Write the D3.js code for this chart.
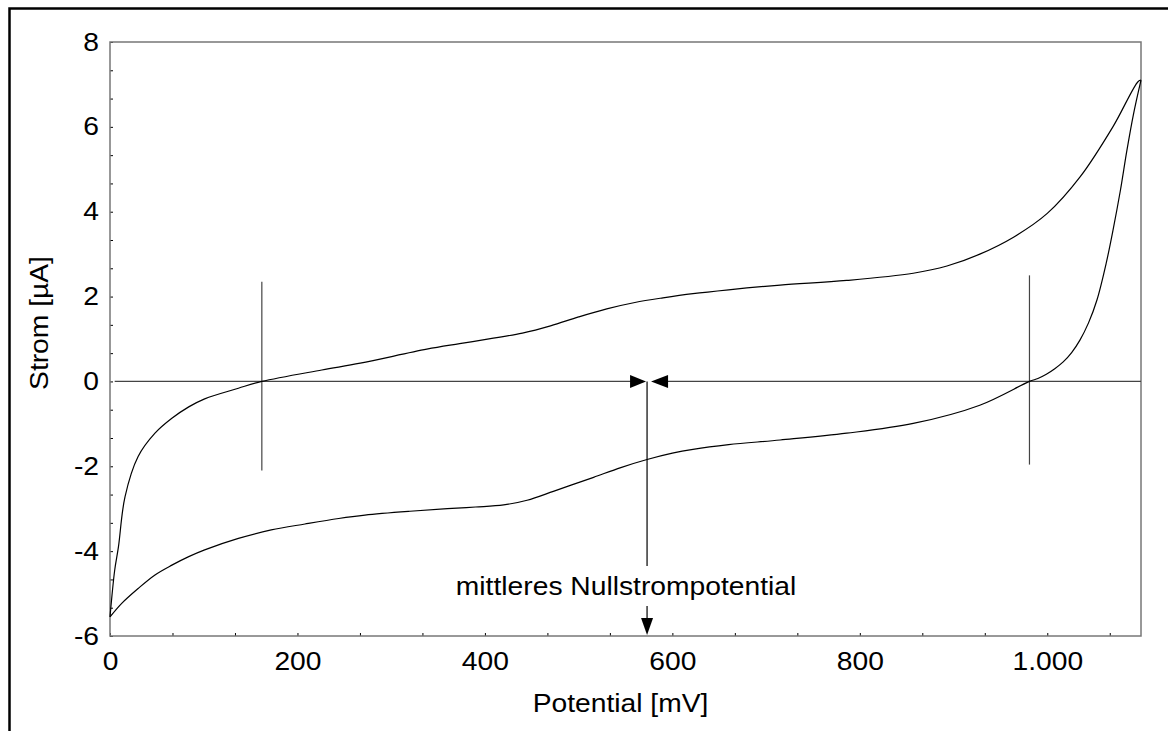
<!DOCTYPE html>
<html>
<head>
<meta charset="utf-8">
<script src="https://cdn.jsdelivr.net/npm/d3@7"></script>
<style>
  body { margin: 0; background: #fff; }
  text { font-family: "Liberation Sans", Arial, sans-serif; fill: #000; }
</style>
</head>
<body>
<svg id="cv" width="1168" height="731"></svg>
<script>
// forward scan (0 -> 1100 mV)
var fwdMv = [0, 5, 9, 16, 30, 48, 66, 84, 101, 137, 162, 226, 267, 338, 373, 409, 440, 470, 500, 530, 560, 590, 622, 660, 715, 786, 857, 893, 928, 964, 1000, 1035, 1070, 1097, 1100];
var fwdUa = [-5.55, -4.45, -3.9, -2.72, -1.77, -1.22, -0.87, -0.6, -0.41, -0.16, 0, 0.27, 0.43, 0.76, 0.89, 1.02, 1.14, 1.31, 1.52, 1.71, 1.86, 1.97, 2.07, 2.16, 2.27, 2.38, 2.55, 2.72, 3.0, 3.4, 3.96, 4.82, 6.0, 7.07, 7.1];

// reverse scan (1100 -> 0 mV), stored ascending
var revMv = [0, 12.5, 30, 48, 66, 84, 101, 137, 172, 208, 244, 272, 320, 360, 390, 420, 445, 473, 495, 516, 545, 573, 600, 622, 660, 715, 786, 857, 928, 981, 990, 999, 1008, 1017, 1026, 1035, 1044, 1053, 1063, 1070, 1078, 1085, 1092, 1100];
var revUa = [-5.55, -5.23, -4.88, -4.56, -4.33, -4.13, -3.97, -3.70, -3.50, -3.36, -3.23, -3.15, -3.06, -3.0, -2.96, -2.91, -2.80, -2.59, -2.42, -2.26, -2.03, -1.84, -1.69, -1.6, -1.49, -1.38, -1.22, -0.99, -0.56, 0.0, 0.07, 0.17, 0.30, 0.46, 0.68, 0.98, 1.38, 1.92, 2.8, 3.55, 4.5, 5.45, 6.3, 7.1];

// zero-current markers
var markerMv  = [162, 981];
var markerTop = [2.35, 2.5];
var markerBot = [-2.1, -1.96];
var meanZeroMv = 573;
var zeroLineStart = 5;

var xTickLabels = [0, 200, 400, 600, 800, 1000];
var yTickLabels = [-6, -4, -2, 0, 2, 4, 6, 8];

var annotationText = "mittleres Nullstrompotential";
var xTitle = "Potential [mV]";
var yTitle = "Strom [µA]";

var svg = d3.select("#cv");
var margin = {left: 110, top: 42, right: 1141, bottom: 636};
var stretch = 1.13;   // text in the original is a bit wider than Arial

var x = d3.scaleLinear().domain([0, 1100]).range([margin.left, margin.right]);
var y = d3.scaleLinear().domain([-6, 8]).range([margin.bottom, margin.top]);

// outer frame (cut off at right/bottom)
svg.append("rect")
   .attr("x", 9.5).attr("y", 8.5)
   .attr("width", 1300).attr("height", 900)
   .attr("fill", "none").attr("stroke", "#000").attr("stroke-width", 2.5);

// minor ticks every 2/3 of a label step
var xTicks = d3.range(0, 17).map(function(i) { return i * 200 / 3; });
var yTicks = d3.range(0, 22).map(function(i) { return -6 + i * 2 / 3; });

function isLabel(list, v) {
  return list.some(function(l) { return Math.abs(l - v) < 1e-6; });
}
var fmtX = function(d) {
  if (!isLabel(xTickLabels, d)) return "";
  return d3.format(",")(Math.round(d)).replace(/,/g, ".");
};
var fmtY = function(d) {
  if (!isLabel(yTickLabels, d)) return "";
  return String(Math.round(d));
};

var gx = svg.append("g")
  .attr("transform", "translate(0," + margin.bottom + ")")
  .call(d3.axisBottom(x).tickValues(xTicks).tickSize(-3).tickPadding(16).tickFormat(fmtX));
var gy = svg.append("g")
  .attr("transform", "translate(" + margin.left + ",0)")
  .call(d3.axisLeft(y).tickValues(yTicks).tickSize(-3).tickPadding(11).tickFormat(fmtY));

[gx, gy].forEach(function(g) {
  g.select(".domain").remove();
  g.selectAll("line").attr("stroke", "#000");
  g.selectAll("text").attr("font-size", 25).attr("font-family", "'Liberation Sans', Arial, sans-serif").attr("fill", "#000");
});
gx.selectAll("text").attr("transform", "scale(" + stretch + ",1)");
gy.selectAll("text").attr("x", 0).attr("transform", "translate(-11,0) scale(" + stretch + ",1)");

// plot frame
svg.append("rect")
   .attr("x", margin.left).attr("y", margin.top)
   .attr("width", margin.right - margin.left).attr("height", margin.bottom - margin.top)
   .attr("fill", "none").attr("stroke", "#777").attr("stroke-width", 1.5);

// zero line with arrows pointing at the mean zero-current potential
var xm = x(meanZeroMv), y0 = y(0);
svg.append("line")
   .attr("x1", x(zeroLineStart)).attr("x2", xm - 16).attr("y1", y0).attr("y2", y0)
   .attr("stroke", "#444").attr("stroke-width", 1.2);
svg.append("line")
   .attr("x1", xm + 20).attr("x2", margin.right).attr("y1", y0).attr("y2", y0)
   .attr("stroke", "#444").attr("stroke-width", 1.2);
svg.append("path")
   .attr("d", "M" + (xm - 17) + "," + (y0 - 6.5) + "L" + (xm - 1) + "," + y0 + "L" + (xm - 17) + "," + (y0 + 6.5) + "Z")
   .attr("fill", "#000");
svg.append("path")
   .attr("d", "M" + (xm + 21) + "," + (y0 - 6.5) + "L" + (xm + 4) + "," + y0 + "L" + (xm + 21) + "," + (y0 + 6.5) + "Z")
   .attr("fill", "#000");

// vertical arrow down to x-axis
svg.append("line")
   .attr("x1", xm).attr("x2", xm).attr("y1", y0).attr("y2", 566)
   .attr("stroke", "#000").attr("stroke-width", 1.2);
svg.append("line")
   .attr("x1", xm).attr("x2", xm).attr("y1", 606).attr("y2", 620)
   .attr("stroke", "#000").attr("stroke-width", 1.2);
svg.append("path")
   .attr("d", "M" + (xm - 6) + ",618L" + xm + "," + (margin.bottom - 1) + "L" + (xm + 6) + ",618Z")
   .attr("fill", "#000");

svg.append("text")
   .attr("transform", "translate(" + (xm - 21) + ",595) scale(" + stretch + ",1)")
   .attr("text-anchor", "middle").attr("font-size", 25)
   .text(annotationText);

// zero-current markers
svg.selectAll("line.marker")
   .data(markerMv)
   .enter().append("line")
   .attr("class", "marker")
   .attr("x1", function(d) { return x(d); })
   .attr("x2", function(d) { return x(d); })
   .attr("y1", function(d, i) { return y(markerTop[i]); })
   .attr("y2", function(d, i) { return y(markerBot[i]); })
   .attr("stroke", "#444").attr("stroke-width", 1.2);

// voltammogram
var line = d3.line()
  .x(function(d) { return x(d[0]); })
  .y(function(d) { return y(d[1]); })
  .curve(d3.curveCatmullRom.alpha(0.5));

svg.append("path")
   .datum(d3.zip(fwdMv, fwdUa))
   .attr("fill", "none").attr("stroke", "#000").attr("stroke-width", 1.2)
   .attr("d", line);
svg.append("path")
   .datum(d3.zip(revMv, revUa))
   .attr("fill", "none").attr("stroke", "#000").attr("stroke-width", 1.2)
   .attr("d", line);

// axis titles
svg.append("text")
   .attr("transform", "translate(" + ((margin.left + margin.right) / 2 - 5) + ",712) scale(" + stretch + ",1)")
   .attr("text-anchor", "middle").attr("font-size", 25)
   .text(xTitle);
svg.append("text")
   .attr("transform", "translate(48," + ((margin.top + margin.bottom) / 2 - 16) + ") rotate(-90) scale(" + stretch + ",1)")
   .attr("text-anchor", "middle").attr("font-size", 25)
   .text(yTitle);
</script>
</body>
</html>
